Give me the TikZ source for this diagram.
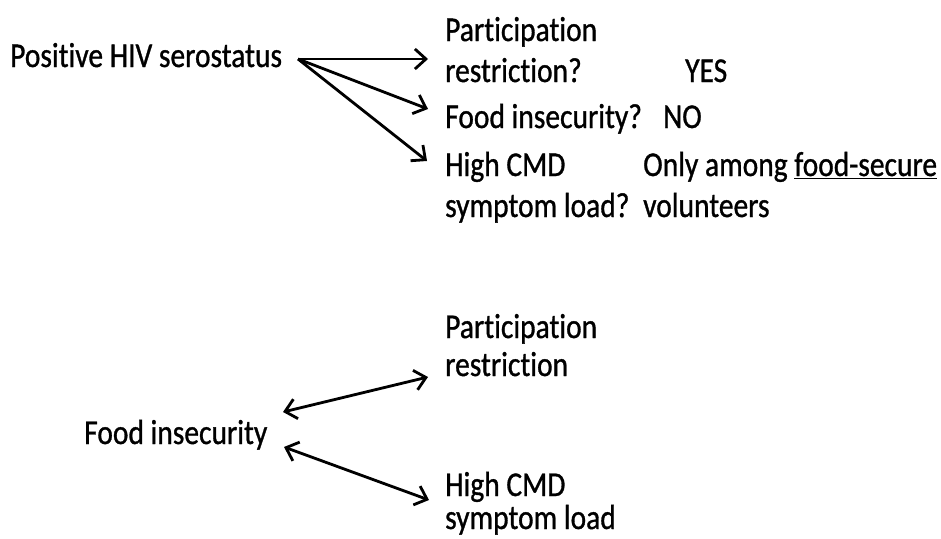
\documentclass[tikz,border=0pt]{standalone}
\usepackage{fontspec}
\setmainfont{Carlito}[FakeBold=1,Ligatures=NoCommon]
\usepackage{graphicx}
\usetikzlibrary{arrows.meta}
\newcommand{\vs}[1]{\scalebox{1}[1.18]{#1}}
\begin{document}
\begin{tikzpicture}[x=1pt,y=-1pt,
  txt/.style={anchor=base west,inner sep=0pt,font=\fontsize{29.5}{35}\selectfont},
  arr/.style={line width=2.8pt,-{Straight Barb[length=11pt,width=20pt,line width=2.8pt]}},
  darr/.style={line width=2.8pt,{Straight Barb[length=11pt,width=20pt,line width=2.8pt]}-{Straight Barb[length=11pt,width=20pt,line width=2.8pt]}}]
\useasboundingbox (0,0) rectangle (941,538);
% top part
\node[txt] (hiv) at (10,67) {\vs{Positive HIV serostatus}};
\node[txt] (part1) at (445,41) {\vs{Participation}};
\node[txt] (restr1) at (445,82) {\vs{restriction?}};
\node[txt] (yes) at (685,82) {\vs{YES}};
\node[txt] (food1) at (445,128) {\vs{Food insecurity?}};
\node[txt] (no) at (663,128) {\vs{NO}};
\node[txt] (cmd1) at (445,176) {\vs{High CMD}};
\node[txt] (only) at (643,176) {\vs{Only among \underline{food-secure}}};
\node[txt] (sym1) at (445,217) {\vs{symptom load?}};
\node[txt] (vol) at (643,217) {\vs{volunteers}};
\coordinate (s) at (298,59);
\coordinate (t1) at (428,59);
\coordinate (t2) at (428,109);
\coordinate (t3) at (427,161);
\draw[arr] (s) -- (t1);
\draw[arr] (s) -- (t2);
\draw[arr] (s) -- (t3);
% bottom part
\node[txt] (part2) at (445,338) {\vs{Participation}};
\node[txt] (restr2) at (445,376) {\vs{restriction}};
\node[txt] (food2) at (84,444) {\vs{Food insecurity}};
\node[txt] (cmd2) at (445,496) {\vs{High CMD}};
\node[txt] (sym2) at (445,529) {\vs{symptom load}};
\coordinate (a1) at (283,412);
\coordinate (b1) at (428,377);
\coordinate (a2) at (284,447);
\coordinate (b2) at (429,500);
\draw[darr] (a1) -- (b1);
\draw[darr] (a2) -- (b2);
\end{tikzpicture}
\end{document}
